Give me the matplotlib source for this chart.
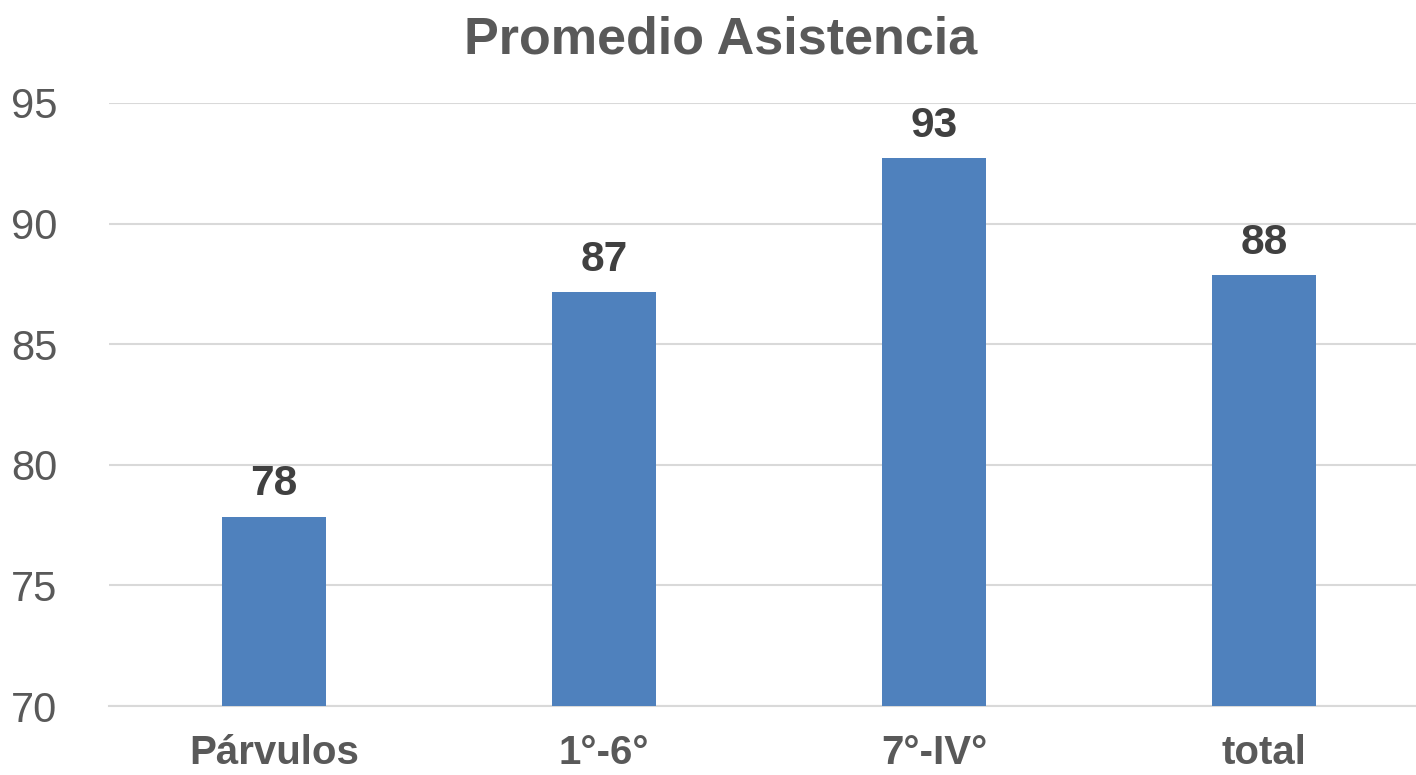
import matplotlib.pyplot as plt

plt.rcParams['font.family'] = ['Liberation Sans', 'DejaVu Sans']

# Data
categories = ['Párvulos', '1°-6°', '7°-IV°', 'total']
values = [77.85, 87.15, 92.7, 87.85]
labels = ['78', '87', '93', '88']
yticks = [70, 75, 80, 85, 90, 95]

W, H = 1416, 775
fig = plt.figure(figsize=(W / 100, H / 100), dpi=100)
ax = fig.add_axes([109 / W, 1 - 706 / H, 1 - 109 / W, (706 - 103) / H])

x = range(len(categories))
bars = ax.bar(x, [v - 70 for v in values], bottom=70, width=0.315,
              color='#4F81BD', zorder=3)

for xi, v, lab in zip(x, values, labels):
    ax.annotate(lab, (xi, v), xytext=(0, 9), textcoords='offset points',
                ha='center', va='bottom', fontsize=30.5, fontweight='bold',
                color='#404040')

ax.set_xlim(-0.5, 3.46)
ax.set_ylim(70, 95)
ax.set_yticks(yticks)
ax.set_xticks(list(x))
ax.set_xticklabels(categories, fontsize=29, fontweight='bold', color='#595959')
ax.tick_params(axis='y', labelsize=30, labelcolor='#595959', length=0, pad=37)
ax.tick_params(axis='x', length=0, pad=20)

ax.grid(axis='y', color='#D9D9D9', linewidth=1.5, zorder=0)
for side in ['top', 'right', 'left']:
    ax.spines[side].set_visible(False)
ax.spines['bottom'].set_color('#D9D9D9')
ax.spines['bottom'].set_linewidth(1.5)

fig.text(721 / W, 1 - 53 / H, 'Promedio Asistencia', ha='center', va='baseline',
         fontsize=37.5, fontweight='bold', color='#595959')

fig.savefig('out.png', dpi=100)
